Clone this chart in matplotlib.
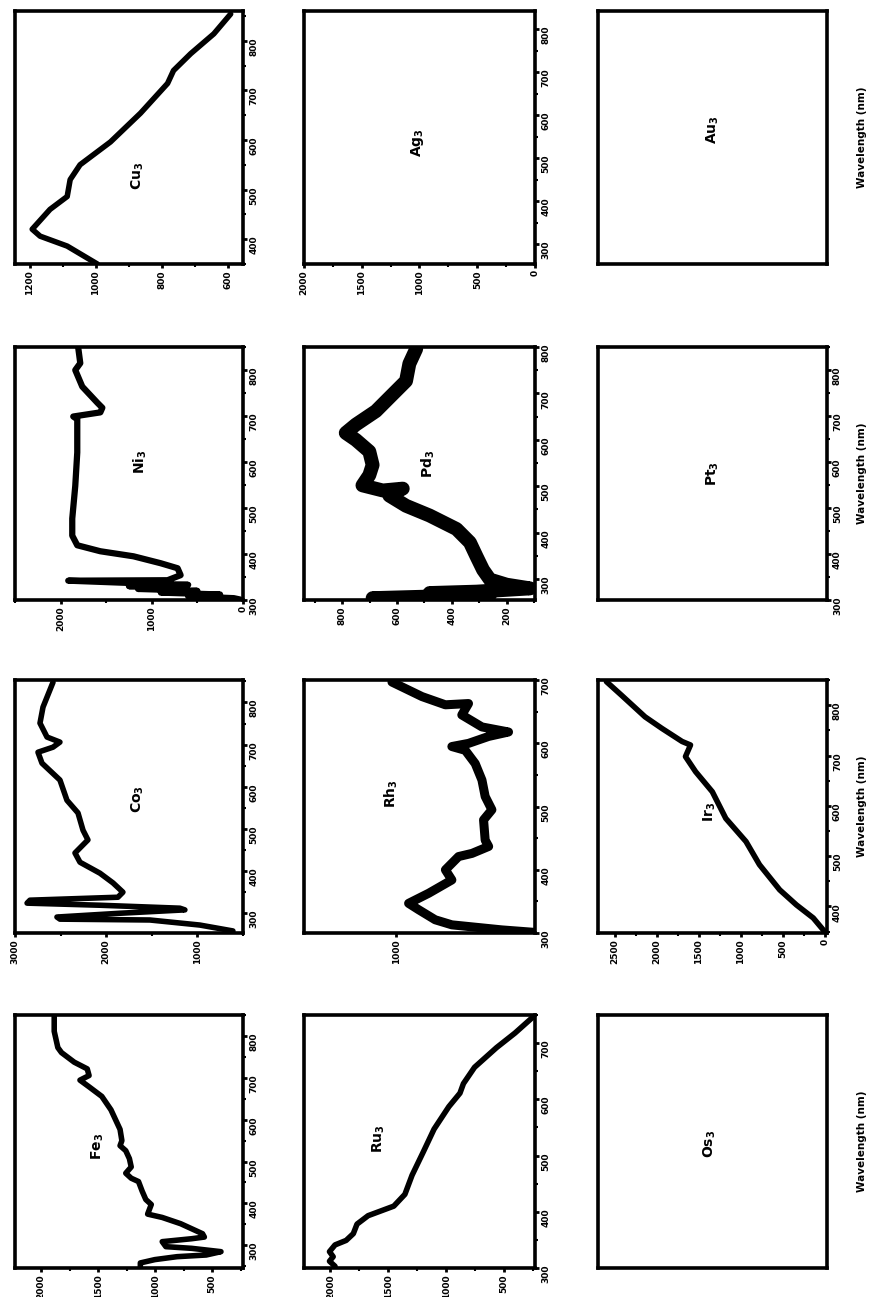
import matplotlib.pyplot as plt
from matplotlib.ticker import AutoMinorLocator

plt.rcParams['font.family'] = 'DejaVu Sans'
plt.rcParams['font.weight'] = 'bold'

# spectra: wavelength (nm) and intensity (counts) for each trimer
fe3_wl = [847, 812, 773, 761, 738, 722, 706, 695, 679, 656, 624, 577, 550, 538, 526, 507, 487,
          472, 460, 452, 429, 409, 397, 374, 366, 351, 339, 327, 319, 315, 308, 296, 292, 284,
          276, 272, 265, 257, 247]
fe3_int = [1886, 1886, 1854, 1822, 1710, 1596, 1580, 1660, 1580, 1468, 1388, 1308, 1292, 1308,
           1258, 1226, 1210, 1258, 1210, 1146, 1114, 1082, 1034, 1066, 938, 776, 680, 584, 568,
           680, 938, 906, 680, 422, 552, 808, 1002, 1130, 1130]

co3_wl = [848, 789, 751, 718, 706, 694, 682, 656, 616, 568, 538, 497, 474, 443, 421, 395, 372,
          350, 338, 331, 324, 319, 312, 308, 300, 291, 286, 284, 272, 258]
co3_int = [2583, 2693, 2726, 2649, 2507, 2583, 2748, 2704, 2507, 2430, 2309, 2254, 2200, 2342,
           2287, 2068, 1925, 1816, 1871, 2836, 2868, 2068, 1191, 1136, 1849, 2540, 2507, 1520,
           972, 609]

ni3_wl = [848, 815, 800, 764, 729, 718, 708, 699, 693, 621, 548, 477, 440, 419, 406, 395, 380,
          369, 354, 343, 342, 336, 333, 330, 327, 324, 320, 316, 312, 308, 304, 301]
ni3_int = [1806, 1784, 1839, 1762, 1597, 1542, 1564, 1861, 1817, 1817, 1839, 1872, 1872, 1817,
           1564, 1200, 903, 716, 683, 826, 1916, 1100, 600, 1250, 700, 1150, 500, 900, 250,
           600, 100, 30]

cu3_wl = [350, 386, 406, 420, 460, 486, 520, 550, 596, 654, 714, 740, 774, 814, 854]
cu3_int = [995, 1086, 1168, 1192, 1138, 1086, 1077, 1047, 955, 864, 782, 764, 712, 642, 591]

ru3_wl = [747, 718, 692, 657, 628, 611, 587, 547, 506, 465, 431, 410, 393, 378, 361, 349, 341,
          329, 320, 312, 303]
ru3_int = [246, 404, 564, 754, 850, 880, 976, 1104, 1198, 1294, 1356, 1452, 1674, 1770, 1802,
           1864, 1960, 2008, 1976, 2008, 1960]

rh3_wl = [697, 674, 661, 663, 645, 626, 618, 611, 600, 595, 589, 568, 542, 516, 495, 479, 447,
          437, 426, 421, 400, 384, 363, 347, 337, 321, 313, 305, 301]
rh3_int = [1019, 889, 788, 688, 717, 630, 515, 601, 688, 760, 702, 659, 630, 616, 587, 623, 616,
           601, 673, 731, 788, 760, 860, 947, 904, 832, 760, 544, 400]

pd3_wl = [796, 764, 727, 691, 662, 633, 615, 600, 575, 546, 524, 502, 491, 495, 480, 458, 437,
          408, 379, 349, 320, 299, 288, 280, 273, 270, 266, 259, 256]
pd3_int = [530, 555, 567, 628, 677, 750, 787, 750, 701, 689, 701, 726, 652, 579, 628, 567, 481,
           383, 334, 310, 286, 261, 200, 114, 310, 481, 261, 689, 506]

ir3_wl = [349, 377, 403, 433, 483, 529, 575, 628, 668, 698, 721, 728, 754, 777, 820, 847]
ir3_int = [1, 141, 341, 540, 780, 940, 1180, 1340, 1539, 1659, 1599, 1699, 1939, 2139, 2419, 2598]

wl_ticks_long = [300, 400, 500, 600, 700, 800]
wl_ticks_short = [300, 400, 500, 600, 700]
wl_ticks_mid = [400, 500, 600, 700, 800]

# grid layout: columns are the 5d / 4d / 3d rows, rows run Au-Pt-Ir-Os etc.
col_left = [0.0172, 0.348, 0.685]
col_width = [0.261, 0.265, 0.262]
row_bottom = [0.7965, 0.5374, 0.2806, 0.0224]
row_height = 0.195

panels = [
    # name, row, col, wl, intensity, wl lim, wl ticks, int lim, int ticks, label xy, line width
    ('Cu', 0, 0, cu3_wl, cu3_int, (350, 860), wl_ticks_mid, (554, 1244), [600, 800, 1000, 1200], (0.54, 0.35), 4),
    ('Ag', 0, 1, None, None, (254, 842), wl_ticks_long, (0, 2000), [0, 500, 1000, 1500, 2000], (0.49, 0.48), 4),
    ('Au', 0, 2, None, None, None, None, None, None, (0.50, 0.53), 4),
    ('Ni', 1, 0, ni3_wl, ni3_int, (300, 850), wl_ticks_long, (0, 2500), [0, 1000, 2000], (0.55, 0.545), 4.5),
    ('Pd', 1, 1, pd3_wl, pd3_int, (255, 800), wl_ticks_long, (96, 940), [200, 400, 600, 800], (0.54, 0.54), 10),
    ('Pt', 1, 2, None, None, (300, 850), wl_ticks_long, None, None, (0.50, 0.50), 4),
    ('Co', 2, 0, co3_wl, co3_int, (253, 853), wl_ticks_long, (500, 3000), [1000, 2000, 3000], (0.54, 0.53), 4),
    ('Rh', 2, 1, rh3_wl, rh3_int, (300, 700), wl_ticks_short, (400, 1400), [1000], (0.38, 0.55), 6.5),
    ('Ir', 2, 2, ir3_wl, ir3_int, (347, 850), wl_ticks_mid, (-19, 2698), [0, 500, 1000, 1500, 2000, 2500], (0.49, 0.48), 4),
    ('Fe', 3, 0, fe3_wl, fe3_int, (245, 851), wl_ticks_long, (230, 2230), [500, 1000, 1500, 2000], (0.365, 0.48), 4),
    ('Ru', 3, 1, ru3_wl, ru3_int, (300, 750), wl_ticks_short, (230, 2230), [500, 1000, 1500, 2000], (0.325, 0.51), 4),
    ('Os', 3, 2, None, None, None, None, None, None, (0.49, 0.49), 4),
]

fig = plt.figure(figsize=(8.73, 12.97), dpi=100)

for name, row, col, wl, inten, wl_lim, wl_ticks, int_lim, int_ticks, lab_xy, lw in panels:
    ax = fig.add_axes([col_left[col], row_bottom[row], col_width[col], row_height])
    for sp in ax.spines.values():
        sp.set_linewidth(2.6)
    # intensity runs right-to-left, wavelength bottom-to-top
    if wl is not None:
        ax.plot(inten, wl, color='black', lw=lw, solid_joinstyle='round', solid_capstyle='round')
    if int_lim is not None:
        ax.set_xlim(int_lim[1], int_lim[0])
        ax.set_xticks(int_ticks)
        ax.xaxis.set_minor_locator(AutoMinorLocator(2))
    else:
        ax.set_xticks([])
    if wl_lim is not None:
        ax.set_ylim(*wl_lim)
        ax.set_yticks(wl_ticks)
        ax.yaxis.set_minor_locator(AutoMinorLocator(2))
        ax.yaxis.tick_right()
    else:
        ax.set_yticks([])
    ax.tick_params(which='major', length=3, width=2, labelsize=6.5, pad=1.5, labelrotation=90)
    ax.tick_params(which='minor', length=2, width=1.5)
    ax.text(lab_xy[0], lab_xy[1], name + r'$_{\mathbf{3}}$', transform=ax.transAxes,
            rotation=90, ha='center', va='center', fontsize=10, fontweight='bold')

    if col == 2:
        fig.text(0.987, row_bottom[row] + row_height / 2, 'Wavelength (nm)', rotation=90,
                 ha='center', va='center', fontsize=7.5, fontweight='bold')

fig.savefig('out.png', dpi=100)
